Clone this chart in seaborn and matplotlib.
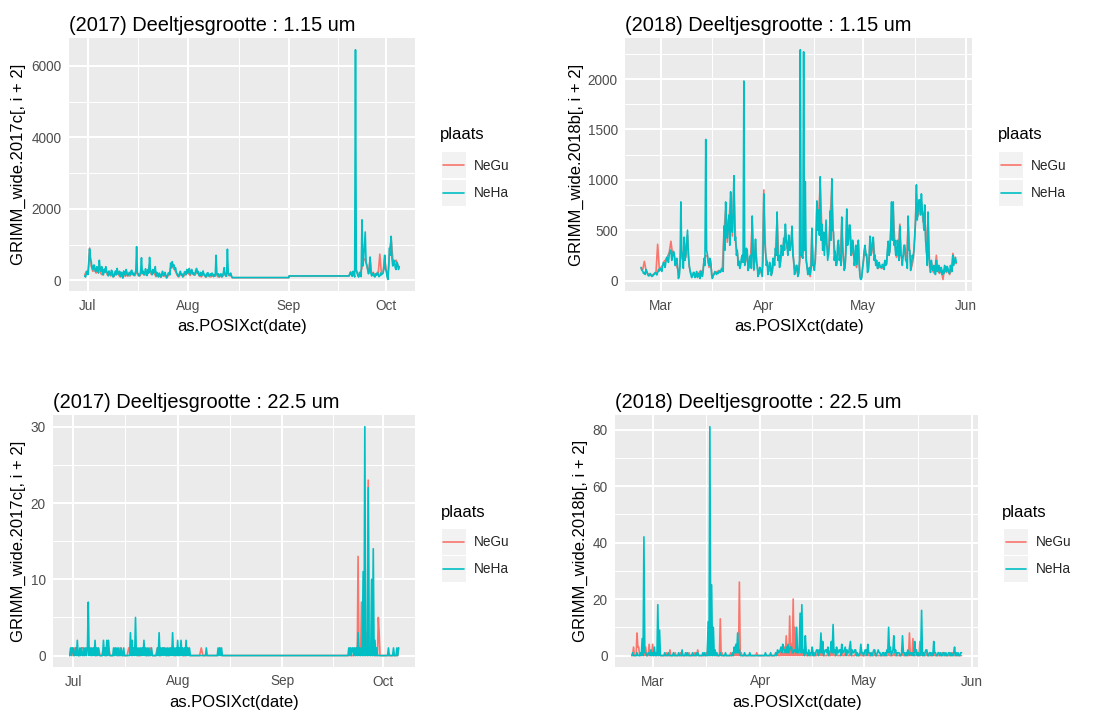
import numpy as np
import pandas as pd
import matplotlib
matplotlib.use("Agg")
import matplotlib.pyplot as plt
import matplotlib.dates as mdates
from matplotlib.lines import Line2D
from matplotlib.patches import Rectangle
from matplotlib.legend_handler import HandlerBase
from matplotlib.ticker import MultipleLocator, FixedLocator
import seaborn as sns

# ---------------------------------------------------------------- data
PLACES = ["NeGu", "NeHa"]
COLORS = {"NeGu": "#F8766D", "NeHa": "#00BFC4"}

# 2017, particle size 1.15 um.  NeHa every 6 h, NeGu every 12 h,
# two measuring blocks joined by two readings on 1 September.
small_2017_start_a = "2017-06-30 00:00"
small_2017_start_b = "2017-09-19 12:00"
small_2017_gap_dates = ["2017-08-31 23:00", "2017-09-01 00:00"]

small_2017_neha_a = [
    120, 90, 180, 250,  160, 420, 880, 600,  520, 350, 300, 420,     # Jun 30 - Jul 2
    420, 250, 250, 380,  330, 200, 560, 300,  250, 380, 200, 150,    # Jul 3 - 5
    310, 220, 380, 260,  200, 120, 260, 180,  150, 280, 230, 90,     # Jul 6 - 8
    120, 200, 260, 150,  330, 180, 180, 250,  110, 220, 200, 60,     # Jul 9 - 11
    260, 180, 140, 300,  230, 120, 170, 220,  150, 250, 280, 160,    # Jul 12 - 14
    200, 130, 180, 260,  940, 200, 180, 120,  150, 250, 630, 200,    # Jul 15 - 17
    260, 150, 190, 320,  210, 130, 300, 200,  640, 280, 220, 150,    # Jul 18 - 20
    300, 200, 250, 380,  120, 220, 180, 90,   200, 140, 90, 180,     # Jul 21 - 23
    250, 120, 160, 220,  140, 60, 120, 200,   210, 150, 480, 350,    # Jul 24 - 26
    520, 400, 430, 300,  350, 220, 180, 120,  110, 200, 250, 150,    # Jul 27 - 29
    180, 90, 140, 230,   240, 150, 300, 200,  260, 330, 170, 250,    # Jul 30 - Aug 1
    300, 180, 210, 150,  180, 280, 330, 200,  250, 130, 140, 220,    # Aug 2 - 4
    120, 180, 260, 160,  160, 90, 110, 200,   210, 120, 130, 180,    # Aug 5 - 7
    120, 200, 170, 100,  150, 120, 700, 200,  130, 180, 100, 150,    # Aug 8 - 10
    180, 90, 120, 200,   350, 150, 140, 110,  870, 200, 160, 130,    # Aug 11 - 13
    200, 120, 75, 75,                                                # Aug 14
]
small_2017_neha_gap = [75, 120]
small_2017_neha_b = [
    120, 180,                                                        # Sep 19
    220, 140, 110, 250,  180, 90, 6450, 300,  200, 120, 90, 220,     # Sep 20 - 22
    170, 100, 1690, 400, 600, 1000, 1350, 500, 420, 300, 180, 250,   # Sep 23 - 25
    650, 200, 120, 180,  200, 110, 90, 180,   140, 220, 160, 100,    # Sep 26 - 28
    120, 200, 150, 180,  200, 350, 700, 300,  250, 90, 20, 400,      # Sep 29 - Oct 1
    900, 700, 1230, 600, 400, 500, 550, 350,  300, 500, 450, 300,    # Oct 2 - 4
    380,                                                             # Oct 5
]

small_2017_negu_a = [
    150, 250, 200, 900, 400, 250, 300, 200, 250, 400,
    180, 150, 250, 250, 150, 170, 120, 150, 100, 180,
    220, 140, 90, 130, 180, 110, 150, 130, 120, 200,
    150, 130, 250, 130, 120, 200, 180, 150, 160, 200,
    450, 170, 200, 180, 100, 130, 140, 80, 170, 120,
    110, 100, 150, 350, 380, 320, 250, 140, 90, 180,
    130, 110, 170, 220, 190, 130, 220, 160, 140, 240,
    180, 110, 100, 180, 120, 90, 150, 100, 100, 130,
    120, 200, 100, 90, 130, 100, 250, 110, 250, 130,
    150, 70,
]
small_2017_negu_gap = [70, 115]
small_2017_negu_b = [
    118, 240, 130, 200, 300, 220, 110, 190, 350, 560, 600,
    400, 200, 600, 140, 220, 110, 160, 180, 730, 170, 220, 650,
    270, 50, 850, 1150, 600, 520, 560, 430, 360,
]

# 2018, particle size 1.15 um.  NeHa every 6 h, NeGu every 12 h, from 23 Feb.
small_2018_start = "2018-02-23 00:00"
small_2018_neha = [
    130, 100, 95, 70,    80, 60, 110, 90,     60, 45, 50, 70,        # Feb 23 - 25
    55, 40, 45, 60,      60, 80, 75, 55,      80, 110, 95, 120,      # Feb 26 - 28
    110, 90, 140, 180,   170, 130, 190, 230,  220, 180, 260, 300,    # Mar 1 - 3
    300, 200, 240, 290,  270, 150, 170, 220,  140, 20, 40, 150,      # Mar 4 - 6
    780, 300, 220, 120,  430, 200, 260, 380,  500, 250, 160, 100,    # Mar 7 - 9
    60, 30, 40, 80,      80, 30, 50, 90,      30, 60, 70, 20,        # Mar 10 - 12
    90, 50, 40, 110,     220, 150, 1400, 300, 260, 180, 150, 220,    # Mar 13 - 15
    190, 60, 20, 50,     60, 90, 75, 60,      80, 70, 95, 80,        # Mar 16 - 18
    85, 120, 110, 90,    540, 300, 780, 500,  420, 600, 650, 350,    # Mar 19 - 21
    880, 500, 480, 700,  1040, 400, 430, 250, 300, 150, 190, 120,    # Mar 22 - 24
    150, 220, 250, 180,  1980, 150, 210, 320, 300, 100, 140, 230,    # Mar 25 - 27
    250, 120, 640, 300,  110, 250, 410, 180,  150, 40, 70, 130,      # Mar 28 - 30
    120, 80, 40, 200,    860, 400, 300, 150,  190, 60, 110, 180,     # Mar 31 - Apr 2
    150, 50, 90, 220,    210, 150, 320, 250,  680, 200, 250, 130,    # Apr 3 - 5
    190, 350, 320, 250,  420, 300, 560, 400,  350, 250, 450, 300,    # Apr 6 - 8
    330, 400, 540, 250,  200, 60, 90, 150,    150, 40, 80, 200,      # Apr 9 - 11
    2290, 250, 260, 220, 2270, 300, 980, 200, 150, 60, 90, 130,      # Apr 12 - 14
    60, 120, 520, 150,   150, 100, 210, 400,  790, 500, 700, 450,    # Apr 15 - 17
    1030, 400, 560, 300, 480, 250, 420, 600,  380, 200, 280, 350,    # Apr 18 - 20
    690, 400, 1010, 500, 480, 200, 290, 150,  180, 350, 400, 200,    # Apr 21 - 23
    250, 150, 630, 300,  230, 100, 150, 280,  710, 350, 420, 550,    # Apr 24 - 26
    550, 250, 280, 400,  340, 150, 200, 350,  160, 300, 400, 150,    # Apr 27 - 29
    30, 10, 20, 120,     200, 300, 350, 250,  260, 80, 110, 200,     # Apr 30 - May 2
    440, 250, 300, 400,  430, 200, 250, 150,  200, 120, 140, 180,    # May 3 - 5
    150, 130, 130, 160,  140, 110, 200, 150,  170, 300, 390, 250,    # May 6 - 8
    300, 500, 780, 400,  780, 350, 400, 250,  260, 400, 310, 200,    # May 9 - 11
    540, 250, 240, 150,  250, 350, 350, 200,  200, 120, 640, 300,    # May 12 - 14
    300, 100, 150, 250,  220, 300, 460, 600,  950, 600, 700, 800,    # May 15 - 17
    800, 650, 860, 700,  640, 500, 750, 400,  310, 150, 680, 250,    # May 18 - 20
    150, 80, 200, 120,   100, 150, 80, 60,    200, 90, 100, 150,     # May 21 - 23
    80, 120, 130, 60,    100, 70, 150, 110,   90, 140, 120, 80,      # May 24 - 26
    70, 150, 110, 90,    250, 150, 190, 230,                         # May 27 - 28
    180,                                                             # May 29
]
small_2018_negu = [
    120, 110, 190, 100, 70, 60, 50, 55, 70, 80,
    360, 110, 130, 150, 190, 210, 240, 280, 390, 260,
    250, 160, 120, 60, 300, 200, 400, 230, 450, 140,
    70, 50, 70, 60, 40, 80, 100, 60, 200, 250,
    240, 130, 170, 30, 70, 80, 90, 100, 90, 120,
    480, 700, 380, 600, 820, 440, 950, 380, 280, 170,
    170, 220, 250, 180, 260, 120, 220, 580, 100, 370,
    140, 60, 100, 60, 900, 280, 170, 90, 130, 70,
    190, 280, 620, 220, 170, 290, 380, 500, 320, 410,
    300, 480, 180, 70, 130, 60, 250, 230, 300, 350,
    130, 70, 40, 470, 130, 180, 720, 640, 950, 500,
    430, 380, 340, 240, 640, 920, 430, 250, 150, 360,
    220, 570, 200, 120, 650, 380, 500, 250, 300, 170,
    130, 360, 50, 40, 180, 320, 230, 90, 400, 270,
    390, 220, 180, 120, 140, 120, 130, 190, 160, 360,
    280, 700, 700, 360, 230, 280, 560, 220, 230, 320,
    180, 580, 270, 130, 200, 420, 860, 640, 720, 780,
    580, 680, 280, 620, 130, 180, 90, 70, 250, 90,
    70, 110, 10, 130, 80, 100, 60, 100, 270, 180,
    170,
]

# 2017, particle size 22.5 um.  Counts every 6 h (NeGu first block every 12 h).
large_2017_start_a = "2017-06-30 00:00"
large_2017_start_b = "2017-09-20 12:00"
large_2017_neha_a = [
    0, 1, 0, 1,  1, 0, 0, 1,  0, 2, 0, 0,  1, 0, 1, 0,   # Jun 30 - Jul 3
    0, 1, 0, 1,  0, 1, 7, 0,  1, 0, 1, 0,  1, 0, 2, 0,   # Jul 4 - 7
    1, 0, 1, 0,  0, 0, 0, 0,  2, 0, 1, 0,  2, 0, 2, 0,   # Jul 8 - 11
    0, 0, 0, 0,  1, 0, 1, 0,  1, 0, 1, 0,  0, 1, 0, 0,   # Jul 12 - 15
    1, 0, 0, 0,  0, 0, 0, 0,  3, 0, 2, 0,  1, 0, 5, 0,   # Jul 16 - 19
    1, 0, 1, 0,  1, 0, 1, 0,  2, 0, 1, 0,  1, 0, 1, 0,   # Jul 20 - 23
    0, 1, 0, 0,  0, 0, 0, 0,  1, 0, 3, 0,  1, 0, 1, 0,   # Jul 24 - 27
    1, 0, 1, 0,  1, 0, 1, 0,  1, 0, 3, 0,  1, 0, 1, 0,   # Jul 28 - 31
    2, 0, 1, 0,  2, 0, 1, 0,  1, 0, 2, 0,  1, 0, 1, 0,   # Aug 1 - 4
    0, 0, 0, 0,  0, 0, 0, 0,  0, 0, 0, 0,  0, 0, 0, 0,   # Aug 5 - 8
    0, 0, 1, 0,  0, 0, 0, 0,  0, 0, 0, 0,  0, 0, 0, 0,   # Aug 9 - 12
    1, 0, 1, 0,  1, 0, 0, 0,                             # Aug 13 - 14
]
large_2017_neha_b = [
    0, 1,                                                # Sep 20
    0, 1, 0, 1,  1, 0, 1, 0,  1, 0, 3, 0,  1, 0, 1, 0,   # Sep 21 - 24
    11, 0, 30, 0,  1, 0, 22, 0,  1, 0, 10, 0,  14, 0, 2, 0,  # Sep 25 - 28
    1, 0, 0, 0,  0, 0, 0, 0,  0, 0, 0, 0,  0, 0, 1, 0,   # Sep 29 - Oct 2
    0, 0, 0, 0,  1, 0, 0, 0,                             # Oct 3 - 4
    1, 0, 1,                                             # Oct 5
]
large_2017_negu_a = [
    0, 1, 0, 1, 1, 0, 0, 1, 1, 0,
    1, 1, 1, 0, 1, 0, 0, 1, 0, 0,
    1, 0, 0, 1, 0, 0, 0, 1, 0, 0,
    1, 0, 0, 0, 0, 1, 1, 0, 1, 1,
    0, 0, 0, 1, 1, 0, 0, 0, 1, 0,
    0, 0, 1, 0, 0, 1, 1, 0, 0, 0,
    1, 1, 0, 0, 1, 0, 1, 0, 0, 0,
    1, 0, 0, 0, 0, 0, 0, 0, 1, 0,
    0, 0, 0, 0, 0, 0, 0, 0, 0, 1,
    0, 0,
]
large_2017_negu_b = [
    0, 0,                                                # Sep 20
    1, 0, 0, 0,  0, 0, 1, 0,  1, 0, 13, 0,  1, 0, 7, 0,  # Sep 21 - 24
    2, 0, 1, 0,  3, 0, 23, 0,  1, 0, 2, 0,  1, 0, 0, 0,  # Sep 25 - 28
    0, 0, 5, 3,  0, 0, 0, 0,  0, 0, 0, 0,  0, 0, 0, 0,   # Sep 29 - Oct 2
    0, 0, 0, 0,  0, 0, 0, 0,                             # Oct 3 - 4
    0, 0, 1,                                             # Oct 5
]

# 2018, particle size 22.5 um.  Counts every 6 h from 23 Feb.
large_2018_start = "2018-02-23 00:00"
large_2018_neha = [
    0, 1, 0, 0,  0, 0, 1, 0,  0, 0, 1, 0,  6, 0, 42, 1,      # Feb 23 - 26
    1, 0, 0, 1,  1, 0, 2, 0,  1, 0, 3, 0,  1, 0, 18, 0,      # Feb 27 - Mar 2
    9, 0, 0, 0,  0, 0, 1, 0,  0, 0, 1, 0,  0, 0, 0, 0,       # Mar 3 - 6
    1, 0, 0, 0,  0, 0, 1, 0,  0, 0, 2, 0,  0, 0, 1, 0,       # Mar 7 - 10
    1, 0, 0, 0,  0, 0, 1, 0,  0, 0, 1, 0,  1, 0, 0, 0,       # Mar 11 - 14
    0, 0, 1, 0,  1, 0, 0, 0,  12, 0, 81, 0,  25, 0, 10, 0,   # Mar 15 - 18
    2, 0, 1, 0,  0, 0, 1, 0,  0, 0, 0, 0,  1, 0, 0, 0,       # Mar 19 - 22
    0, 0, 0, 0,  1, 0, 3, 1,  4, 1, 8, 1,  2, 0, 0, 0,       # Mar 23 - 26
    0, 0, 1, 0,  0, 0, 0, 0,  1, 0, 0, 0,  0, 0, 0, 0,       # Mar 27 - 30
    0, 0, 0, 0,  0, 0, 0, 0,  0, 0, 1, 0,  0, 0, 0, 0,       # Mar 31 - Apr 3
    1, 0, 0, 0,  0, 0, 1, 0,  2, 1, 1, 2,  3, 1, 4, 2,       # Apr 4 - 7
    2, 1, 3, 1,  4, 1, 2, 3,  3, 1, 1, 2,  2, 1, 10, 1,      # Apr 8 - 11
    1, 2, 15, 1,  18, 1, 2, 0,  7, 1, 1, 0,  2, 0, 1, 1,     # Apr 12 - 15
    3, 0, 1, 0,  1, 2, 2, 0,  2, 1, 8, 1,  5, 0, 1, 2,       # Apr 16 - 19
    2, 1, 3, 0,  1, 2, 5, 1,  11, 1, 2, 0,  3, 1, 1, 2,      # Apr 20 - 23
    2, 0, 4, 1,  1, 2, 3, 0,  2, 1, 1, 3,  5, 0, 2, 1,       # Apr 24 - 27
    1, 2, 2, 0,  1, 0, 0, 1,  4, 1, 1, 0,  1, 2, 2, 0,       # Apr 28 - May 1
    4, 1, 1, 0,  1, 0, 1, 2,  2, 0, 0, 1,  2, 1, 1, 0,       # May 2 - 5
    0, 1, 1, 0,  1, 0, 2, 1,  10, 1, 3, 0,  1, 2, 7, 1,      # May 6 - 9
    2, 0, 1, 1,  1, 0, 0, 1,  7, 1, 1, 0,  1, 0, 2, 1,       # May 10 - 13
    0, 1, 1, 0,  1, 0, 5, 1,  2, 0, 1, 0,  0, 1, 16, 0,      # May 14 - 17
    1, 0, 1, 2,  2, 0, 0, 1,  1, 0, 1, 0,  5, 1, 1, 0,       # May 18 - 21
    0, 1, 1, 0,  1, 0, 0, 1,  1, 0, 1, 0,  0, 1, 1, 0,       # May 22 - 25
    1, 0, 0, 1,  3, 0, 1, 0,  1, 0, 0, 1,                    # May 26 - 28
    1,                                                       # May 29
]
large_2018_negu = [
    0, 0, 3, 0,  0, 0, 8, 3,  3, 0, 0, 1,  1, 0, 2, 0,       # Feb 23 - 26
    3, 0, 0, 0,  4, 0, 1, 0,  4, 0, 1, 0,  0, 0, 1, 0,       # Feb 27 - Mar 2
    1, 0, 0, 0,  0, 0, 0, 0,  1, 0, 0, 0,  2, 0, 0, 0,       # Mar 3 - 6
    0, 0, 1, 0,  0, 0, 0, 0,  1, 0, 0, 0,  0, 0, 0, 0,       # Mar 7 - 10
    0, 0, 1, 0,  0, 0, 0, 0,  1, 0, 0, 0,  2, 0, 0, 0,       # Mar 11 - 14
    0, 0, 0, 0,  0, 0, 1, 0,  8, 0, 10, 0,  3, 0, 1, 0,      # Mar 15 - 18
    1, 0, 0, 0,  0, 0, 13, 0,  1, 0, 0, 0,  0, 0, 0, 0,      # Mar 19 - 22
    0, 0, 1, 0,  0, 0, 1, 0,  2, 0, 3, 0,  26, 0, 1, 0,      # Mar 23 - 26
    0, 0, 0, 0,  0, 0, 0, 0,  0, 0, 0, 0,  0, 0, 0, 0,       # Mar 27 - 30
    1, 0, 0, 0,  0, 0, 0, 0,  0, 0, 0, 0,  0, 0, 0, 0,       # Mar 31 - Apr 3
    0, 0, 0, 0,  0, 0, 1, 0,  1, 0, 0, 0,  2, 0, 1, 0,       # Apr 4 - 7
    3, 0, 7, 0,  2, 0, 14, 0,  4, 0, 20, 0,  10, 0, 3, 0,    # Apr 8 - 11
    2, 0, 5, 0,  4, 0, 1, 0,  3, 0, 0, 0,  1, 0, 0, 0,       # Apr 12 - 15
    2, 0, 0, 0,  0, 0, 1, 0,  1, 0, 3, 0,  2, 0, 0, 0,       # Apr 16 - 19
    0, 0, 1, 0,  0, 0, 2, 0,  3, 0, 0, 0,  1, 0, 0, 0,       # Apr 20 - 23
    0, 0, 2, 0,  0, 0, 1, 0,  1, 0, 0, 0,  2, 0, 0, 0,       # Apr 24 - 27
    0, 0, 1, 0,  0, 0, 0, 0,  1, 0, 0, 0,  0, 0, 1, 0,       # Apr 28 - May 1
    1, 0, 0, 0,  0, 0, 0, 0,  1, 0, 0, 0,  0, 0, 0, 0,       # May 2 - 5
    0, 0, 0, 0,  0, 0, 0, 0,  1, 0, 0, 0,  0, 0, 1, 0,       # May 6 - 9
    0, 0, 0, 0,  0, 0, 0, 0,  1, 0, 0, 0,  0, 0, 0, 0,       # May 10 - 13
    8, 0, 1, 0,  6, 0, 0, 0,  1, 0, 0, 0,  5, 0, 1, 0,       # May 14 - 17
    0, 0, 0, 0,  1, 0, 0, 0,  0, 0, 0, 0,  1, 0, 0, 0,       # May 18 - 21
    0, 0, 0, 0,  0, 0, 1, 0,  0, 0, 0, 0,  0, 0, 0, 0,       # May 22 - 25
    0, 0, 1, 0,  0, 0, 0, 0,  0, 0, 0, 0,                    # May 26 - 28
    0,                                                       # May 29
]


def regular(start, values, freq):
    return pd.DataFrame({
        "date": pd.date_range(start, periods=len(values), freq=freq),
        "value": values,
    })


def at_dates(dates, values):
    return pd.DataFrame({"date": pd.to_datetime(dates), "value": values})


def long_frame(parts_by_place):
    frames = []
    for place, parts in parts_by_place.items():
        df = pd.concat(parts, ignore_index=True)
        df["plaats"] = place
        frames.append(df)
    return pd.concat(frames, ignore_index=True)


df_small_2017 = long_frame({
    "NeGu": [regular(small_2017_start_a, small_2017_negu_a, "12h"),
             at_dates(small_2017_gap_dates, small_2017_negu_gap),
             regular(small_2017_start_b, small_2017_negu_b, "12h")],
    "NeHa": [regular(small_2017_start_a, small_2017_neha_a, "6h"),
             at_dates(small_2017_gap_dates, small_2017_neha_gap),
             regular(small_2017_start_b, small_2017_neha_b, "6h")],
})
df_small_2018 = long_frame({
    "NeGu": [regular(small_2018_start, small_2018_negu, "12h")],
    "NeHa": [regular(small_2018_start, small_2018_neha, "6h")],
})
df_large_2017 = long_frame({
    "NeGu": [regular(large_2017_start_a, large_2017_negu_a, "12h"),
             regular(large_2017_start_b, large_2017_negu_b, "6h")],
    "NeHa": [regular(large_2017_start_a, large_2017_neha_a, "6h"),
             regular(large_2017_start_b, large_2017_neha_b, "6h")],
})
df_large_2018 = long_frame({
    "NeGu": [regular(large_2018_start, large_2018_negu, "6h")],
    "NeHa": [regular(large_2018_start, large_2018_neha, "6h")],
})

# ---------------------------------------------------------------- style
sns.set_style("darkgrid", {
    "axes.facecolor": "#EBEBEB",
    "grid.color": "white",
    "axes.edgecolor": "none",
})
plt.rcParams["font.family"] = ["Liberation Sans", "DejaVu Sans"]

W, H = 1104, 713
LW = 1.2
TICK_FS = 9.8
fig = plt.figure(figsize=(W / 100, H / 100), dpi=100)
fig.patch.set_facecolor("white")


class KeyHandler(HandlerBase):
    """Legend key: grey square with a horizontal line segment."""

    def create_artists(self, legend, orig_handle, xdescent, ydescent,
                       width, height, fontsize, trans):
        bg = Rectangle((-xdescent, -ydescent), width, height,
                       facecolor="#F2F2F2", edgecolor="none", transform=trans)
        y = -ydescent + height / 2
        ln = Line2D([-xdescent + 0.08 * width, -xdescent + 0.92 * width], [y, y],
                    color=orig_handle.get_color(), lw=LW, transform=trans)
        return [bg, ln]


def panel(box, data, title, ylabel, ystep, ylabel_x, legend_pos):
    left, top, right, bottom = box
    ax = fig.add_axes([left / W, 1 - bottom / H, (right - left) / W, (bottom - top) / H])
    sns.lineplot(data=data, x="date", y="value", hue="plaats", hue_order=PLACES,
                 palette=COLORS, estimator=None, linewidth=LW, legend=False, ax=ax)

    # 5% padding on both scales
    x0, x1 = data["date"].min(), data["date"].max()
    xspan = x1 - x0
    ax.set_xlim(x0 - 0.05 * xspan, x1 + 0.05 * xspan)
    y0, y1 = data["value"].min(), data["value"].max()
    ax.set_ylim(y0 - 0.05 * (y1 - y0), y1 + 0.05 * (y1 - y0))

    # month breaks, minor grid half way between them
    ax.xaxis.set_major_locator(mdates.MonthLocator())
    ax.xaxis.set_major_formatter(mdates.DateFormatter("%b"))
    months = pd.date_range(x0 - pd.DateOffset(months=2), x1 + pd.DateOffset(months=2), freq="MS")
    mids = months[:-1] + (months[1:] - months[:-1]) / 2
    lo, hi = ax.get_xlim()
    mids_num = [m for m in mdates.date2num(mids.to_pydatetime()) if lo < m < hi]
    ax.xaxis.set_minor_locator(FixedLocator(mids_num))
    ax.yaxis.set_major_locator(MultipleLocator(ystep))
    ax.yaxis.set_minor_locator(MultipleLocator(ystep / 2))

    ax.grid(which="major", color="white", linewidth=1.5)
    ax.grid(which="minor", color="white", linewidth=0.75)
    ax.set_axisbelow(True)
    for s in ax.spines.values():
        s.set_visible(False)
    ax.tick_params(which="major", length=3.0, width=1.0, color="#333333",
                   labelcolor="#4D4D4D", labelsize=TICK_FS, pad=2.4)
    ax.tick_params(which="minor", length=0)

    ax.set_title(title, loc="left", fontsize=14.4, pad=5, color="black")
    ax.set_xlabel("as.POSIXct(date)", fontsize=12, color="black")
    ax.xaxis.set_label_coords(0.5, -27.5 / (bottom - top))
    ax.set_ylabel(ylabel, fontsize=12, color="black")
    ax.yaxis.label.set_va("center")
    ax.yaxis.set_label_coords((ylabel_x - left) / (right - left), 0.5)

    # legend
    title_x, title_y, key_x, key_top = legend_pos
    fig.text(title_x / W, 1 - title_y / H, "plaats", fontsize=12,
             ha="left", va="center", color="black")
    handles = [Line2D([], [], color=COLORS[p]) for p in PLACES]
    fig.legend(handles, PLACES, loc="upper left",
               bbox_to_anchor=(key_x / W, 1 - key_top / H),
               bbox_transform=fig.transFigure,
               frameon=False, borderpad=0, borderaxespad=0,
               fontsize=TICK_FS, handlelength=1.8, handleheight=2.56,
               labelspacing=0.11, handletextpad=0.6,
               handler_map={Line2D: KeyHandler()})
    return ax


panel((69, 38.3, 415, 291), df_small_2017,
      "(2017) Deeltjesgrootte : 1.15 um", "GRIMM_wide.2017c[, i + 2]",
      2000, 18.5, (440, 135, 441.5, 152.5))
panel((625.3, 38.3, 972, 291), df_small_2018,
      "(2018) Deeltjesgrootte : 1.15 um", "GRIMM_wide.2018b[, i + 2]",
      500, 576, (997.5, 135, 998.7, 152.5))
panel((53.3, 415.3, 415, 667), df_large_2017,
      "(2017) Deeltjesgrootte : 22.5 um", "GRIMM_wide.2017c[, i + 2]",
      10, 18.5, (440.5, 512, 441.5, 528.7))
panel((615.3, 415.3, 978, 667), df_large_2018,
      "(2018) Deeltjesgrootte : 22.5 um", "GRIMM_wide.2018b[, i + 2]",
      20, 580, (1002, 512, 1003.7, 528.7))

fig.savefig("out.png", dpi=100, facecolor="white")
